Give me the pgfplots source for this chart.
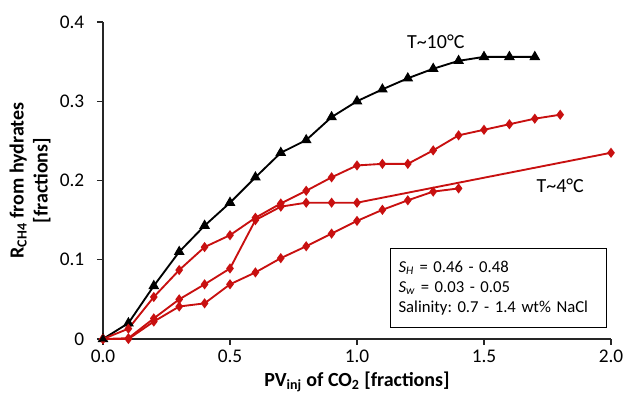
\documentclass[border=0pt]{standalone}
\usepackage{pgfplots}
\pgfplotsset{compat=1.18}
\usepackage{fontspec}
\setmainfont{Carlito}
\frenchspacing
\definecolor{dred}{RGB}{200,16,16}
\begin{document}
\begin{tikzpicture}
\path[use as bounding box] (-77.25pt,-48pt) rectangle (391.5pt,254.25pt);
\begin{axis}[
  scale only axis, width=381pt, height=237.75pt,
  xmin=0, xmax=2, ymin=0, ymax=0.4,
  axis lines*=left,
  axis line style={line width=0.8pt, black!85},
  tick style={line width=0.8pt, black!85},
  tick align=outside, major tick length=4.5pt,
  xtick={0,0.5,1,1.5,2},
  ytick={0,0.1,0.2,0.3,0.4},
  /pgf/number format/assume math mode=true,
  tick label style={font=\fontsize{14.5}{16}\selectfont},
  xticklabel style={/pgf/number format/.cd, fixed, fixed zerofill, precision=1},
  yticklabel style={xshift=-6pt, /pgf/number format/.cd, fixed, precision=1},
  xlabel={\textbf{PV\textsubscript{inj} of CO\textsubscript{2} [fractions]}},
  ylabel={\textbf{R\textsubscript{CH4} from hydrates}\\\textbf{[fractions]}},
  ylabel style={align=center, font=\fontsize{15}{18}\selectfont},
  xlabel style={font=\fontsize{15}{18}\selectfont},
  clip=false,
]
\addplot[black, line width=1.4pt, mark=triangle*, mark size=3.3pt] coordinates {
(0,0) (0.1,0.020) (0.2,0.067) (0.3,0.110) (0.4,0.143) (0.5,0.172) (0.6,0.204)
(0.7,0.235) (0.8,0.251) (0.9,0.280) (1.0,0.300) (1.1,0.315) (1.2,0.329)
(1.3,0.341) (1.4,0.351) (1.5,0.356) (1.6,0.356) (1.7,0.356)};
\addplot[dred, line width=1.4pt, mark=diamond*, mark size=2.7pt] coordinates {
(0,0) (0.1,0.013) (0.2,0.053) (0.3,0.087) (0.4,0.116) (0.5,0.131) (0.6,0.153)
(0.7,0.171) (0.8,0.187) (0.9,0.204) (1.0,0.219) (1.1,0.221) (1.2,0.221)
(1.3,0.238) (1.4,0.257) (1.5,0.264) (1.6,0.271) (1.7,0.278) (1.8,0.283)};
\addplot[dred, line width=1.4pt, mark=diamond*, mark size=2.7pt] coordinates {
(0,0) (0.1,0.001) (0.2,0.026) (0.3,0.050) (0.4,0.069) (0.5,0.089) (0.6,0.150)
(0.7,0.167) (0.8,0.172) (0.9,0.172) (1.0,0.172) (2.0,0.235)};
\addplot[dred, line width=1.4pt, mark=diamond*, mark size=2.7pt] coordinates {
(0,0) (0.1,0.000) (0.2,0.022) (0.3,0.041) (0.4,0.045) (0.5,0.069) (0.6,0.084)
(0.7,0.102) (0.8,0.117) (0.9,0.133) (1.0,0.149) (1.1,0.163) (1.2,0.175)
(1.3,0.186) (1.4,0.190)};
\addplot[black, mark=triangle*, mark size=3.3pt, only marks, forget plot] coordinates {(0,0)};
\node[font=\fontsize{15}{17}\selectfont] at (axis cs:1.31,0.375) {T\textasciitilde 10°C};
\node[font=\fontsize{15}{17}\selectfont] at (axis cs:1.80,0.194) {T\textasciitilde 4°C};
\node[draw, line width=0.8pt, anchor=north west, text width=150pt, inner xsep=6pt,
  minimum height=59pt, align=left, font=\fontsize{12.5}{15}\selectfont]
  at (axis cs:1.13,0.115)
  {\textit{S}\textsubscript{\textit{H}} = 0.46 - 0.48\\
   \textit{S}\textsubscript{\textit{w}} = 0.03 - 0.05\\
   Salinity: 0.7 - 1.4 wt\% NaCl};
\end{axis}
\end{tikzpicture}
\end{document}
